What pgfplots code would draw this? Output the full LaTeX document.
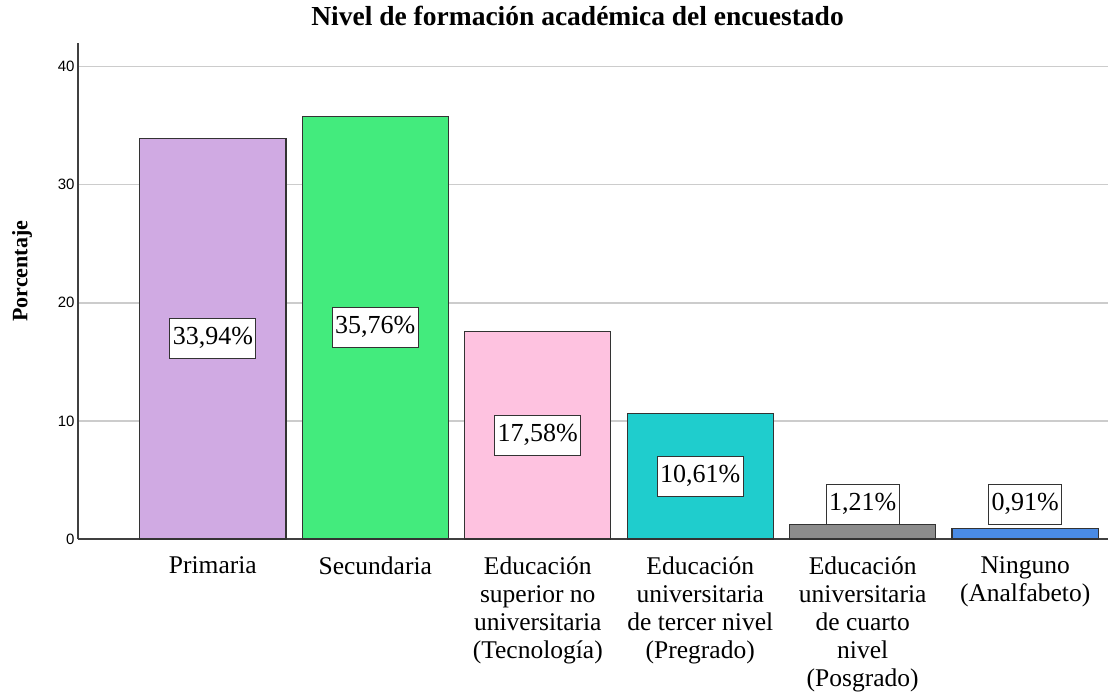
\documentclass[border=0pt]{standalone}
\usepackage{pgfplots}
\pgfplotsset{compat=1.18}
\usepackage{pgfplotstable}
\usepackage{fontspec}
\setmainfont{Liberation Serif}
\setsansfont{Liberation Sans}
\definecolor{cPur}{HTML}{D0AAE3}
\definecolor{cGre}{HTML}{43EB7D}
\definecolor{cPin}{HTML}{FEC2E0}
\definecolor{cCya}{HTML}{1FCDCD}
\definecolor{cGra}{HTML}{8C8C8C}
\definecolor{cBlu}{HTML}{4A8BE5}
\pgfplotstableread{
x y lab
0 16.97 33,94
1 17.88 35,76
2 8.79 17,58
3 5.305 10,61
}\midlabels
\pgfplotstableread{
x y lab
4 1.21 1,21
}\toplabA
\pgfplotstableread{
x y lab
5 0.91 0,91
}\toplabB
\begin{document}
\begin{tikzpicture}
\begin{axis}[
  scale only axis, width=1030pt, height=496pt,
  xmin=-0.83, xmax=5.51, ymin=0, ymax=42,
  axis x line=bottom, axis y line=left,
  axis line style={-, draw=black!75, line width=1.2pt},
  ytick={0,10,20,30,40},
  xtick={0,1,2,3,4,5},
  xticklabels={Primaria, Secundaria, {Educación\\superior no\\universitaria\\(Tecnología)}, {Educación\\universitaria\\de tercer nivel\\(Pregrado)}, {Educación\\universitaria\\de cuarto\\nivel\\(Posgrado)}, {Ninguno\\(Analfabeto)}},
  major tick length=0pt,
  ymajorgrids, grid style={draw=black!20, line width=1.5pt},
  /pgf/number format/assume math mode=true,
  yticklabel style={font=\sffamily\fontsize{15}{18}\selectfont},
  xticklabel style={font=\fontsize{25.5}{28}\selectfont, align=center, anchor=north, yshift=-14pt},
  ylabel={Porcentaje},
  ylabel style={font=\bfseries\fontsize{22}{26}\selectfont, at={(axis description cs:-0.0544,0.54)}, anchor=center},
  title={Nivel de formación académica del encuestado},
  title style={font=\bfseries\fontsize{27.5}{30}\selectfont, at={(axis description cs:0.485,1.042)}, anchor=center},
  every node near coord/.append style={draw=black!80, fill=white, line width=1pt, font=\fontsize{26}{30}\selectfont, inner xsep=3pt, inner ysep=7pt, text height=19pt, text depth=7pt},
]
\addplot[ybar, bar shift=0pt, bar width=0.9, fill=cPur, draw=black!80, line width=1.2pt] coordinates {(0,33.94)};
\addplot[ybar, bar shift=0pt, bar width=0.9, fill=cGre, draw=black!80, line width=1.2pt] coordinates {(1,35.76)};
\addplot[ybar, bar shift=0pt, bar width=0.9, fill=cPin, draw=black!80, line width=1.2pt] coordinates {(2,17.58)};
\addplot[ybar, bar shift=0pt, bar width=0.9, fill=cCya, draw=black!80, line width=1.2pt] coordinates {(3,10.61)};
\addplot[ybar, bar shift=0pt, bar width=0.9, fill=cGra, draw=black!80, line width=1.2pt] coordinates {(4,1.21)};
\addplot[ybar, bar shift=0pt, bar width=0.9, fill=cBlu, draw=black!80, line width=1.2pt] coordinates {(5,0.91)};
\addplot[only marks, mark=none, point meta=explicit symbolic, nodes near coords={\pgfplotspointmeta\%}, nodes near coords style={anchor=center}] table[x=x, y=y, meta=lab] {\midlabels};
\addplot[only marks, mark=none, point meta=explicit symbolic, nodes near coords={\pgfplotspointmeta\%}, nodes near coords style={anchor=south}] table[x=x, y=y, meta=lab] {\toplabA};
\addplot[only marks, mark=none, point meta=explicit symbolic, nodes near coords={\pgfplotspointmeta\%}, nodes near coords style={anchor=south, yshift=3pt}] table[x=x, y=y, meta=lab] {\toplabB};
\end{axis}
\pgfresetboundingbox
\path[use as bounding box] (-78pt,-158pt) rectangle (1030pt,539pt);
\end{tikzpicture}
\end{document}
